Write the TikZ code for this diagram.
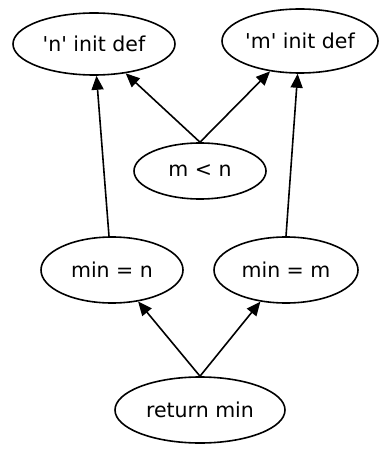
\documentclass[tikz,border=0pt]{standalone}
\usepackage{fontspec}
\newfontfamily\lbl{DejaVu Sans}
\usetikzlibrary{shapes.geometric,arrows.meta}
\begin{document}
\begin{tikzpicture}[x=1pt,y=-1pt,
  ell/.style={draw,ellipse,line width=1.6pt,inner sep=0pt,font=\lbl\fontsize{20.5}{24}\selectfont},
  edge/.style={line width=1.6pt,-{Triangle[length=14pt,width=12pt]}}]
\useasboundingbox (0,0) rectangle (380,449);
\node[ell,minimum width=162pt,minimum height=62pt] (n) at (94,44) {'n' init def};
\node[ell,minimum width=156pt,minimum height=64pt] (m) at (300,41) {'m' init def};
\node[ell,minimum width=132pt,minimum height=56pt] (mn) at (200,171) {m < n};
\node[ell,minimum width=142pt,minimum height=66pt] (minn) at (112,270) {min = n};
\node[ell,minimum width=144pt,minimum height=66pt] (minm) at (286,270) {min = m};
\node[ell,minimum width=170pt,minimum height=66pt] (ret) at (200,410) {return min};
\draw[edge] (mn.north) -- (n);
\draw[edge] (mn.north) -- (m);
\draw[edge] ([xshift=-3pt]minn.north) -- (n);
\draw[edge] (minm.north) -- (m);
\draw[edge] (ret.north) -- (minn);
\draw[edge] (ret.north) -- (minm);
\end{tikzpicture}
\end{document}
